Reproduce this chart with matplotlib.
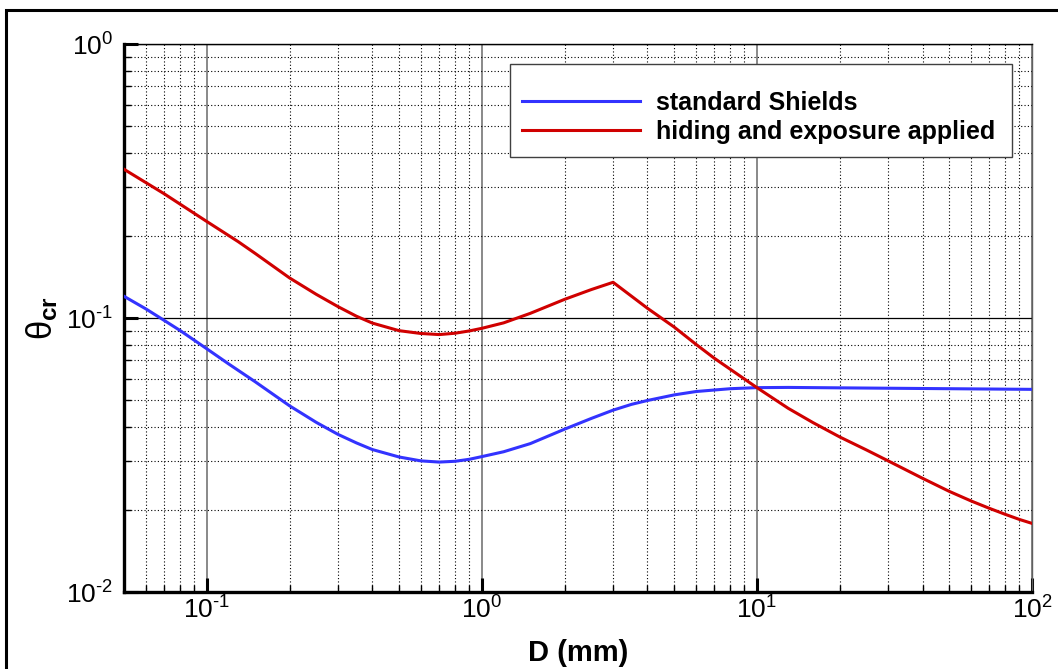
import matplotlib

matplotlib.use("Agg")
import math

import matplotlib.pyplot as plt
from matplotlib.patches import Rectangle
from matplotlib.ticker import FuncFormatter, LogLocator, NullFormatter

plt.rcParams.update({
    "font.family": "Liberation Sans",
    "mathtext.fontset": "custom",
    "mathtext.rm": "Liberation Sans",
    "mathtext.it": "Liberation Sans",
    "mathtext.bf": "Liberation Sans:bold",
})

BLUE = "#3333ff"
RED = "#d00000"

# standard Shields curve
d_std = [0.05, 0.06, 0.07, 0.08, 0.1, 0.12, 0.15, 0.2, 0.25, 0.3, 0.35, 0.4,
         0.5, 0.6, 0.7, 0.8, 0.9, 1.0, 1.2, 1.5, 2.0, 2.5, 3.0, 3.5, 4.0,
         5.0, 6.0, 7.0, 8.0, 10.0, 13.0, 20.0, 50.0, 100.0]
theta_std = [0.120, 0.108, 0.098, 0.090, 0.0772, 0.068, 0.0585, 0.0478,
             0.0416, 0.0376, 0.0350, 0.0331, 0.0311, 0.0301, 0.0298, 0.0300,
             0.0305, 0.0312, 0.0325, 0.0348, 0.0393, 0.0430, 0.0461, 0.0484,
             0.0500, 0.0524, 0.0539, 0.0546, 0.0552, 0.0557, 0.0558, 0.0556,
             0.0552, 0.0549]

# hiding and exposure applied
d_he = [0.05, 0.07, 0.1, 0.13, 0.15, 0.2, 0.25, 0.3, 0.35, 0.4, 0.5, 0.6,
        0.7, 0.8, 0.9, 1.0, 1.2, 1.5, 2.0, 2.5, 3.0, 4.0, 5.0, 6.0, 7.0, 8.0,
        10.0, 13.0, 16.0, 20.0, 25.0, 30.0, 40.0, 50.0, 60.0, 70.0, 80.0,
        90.0, 100.0]
theta_he = [0.349, 0.284, 0.225, 0.190, 0.172, 0.140, 0.122, 0.110, 0.1015,
            0.0958, 0.0899, 0.0878, 0.0870, 0.0880, 0.0897, 0.0917, 0.096,
            0.104, 0.117, 0.127, 0.135, 0.1085, 0.0927, 0.0802, 0.0713, 0.0650,
            0.0557, 0.0468, 0.0415, 0.0368, 0.0330, 0.0301, 0.0260, 0.0233,
            0.0215, 0.0202, 0.0192, 0.0184, 0.0178]

labels = ["standard Shields", "hiding and exposure applied"]


def pow10(v, _pos):
    # short hyphen in the exponent, like the original export
    e = int(round(math.log10(v)))
    if e < 0:
        return r"$10^{\text{-}%d}$" % -e
    return r"$10^{%d}$" % e


W, H = 1058, 669
fig = plt.figure(figsize=(W / 100, H / 100), dpi=100)
ax = fig.add_axes([124 / W, 1 - 592 / H, 908 / W, 548 / H])

ax.plot(d_std, theta_std, color=BLUE, lw=2.2, label=labels[0], zorder=4)
ax.plot(d_he, theta_he, color=RED, lw=2.2, label=labels[1], zorder=4)

ax.set_xscale("log")
ax.set_yscale("log")
ax.set_xlim(0.05, 100)
ax.set_ylim(0.01, 1)

ax.xaxis.set_major_formatter(FuncFormatter(pow10))
ax.yaxis.set_major_formatter(FuncFormatter(pow10))
ax.xaxis.set_minor_locator(LogLocator(base=10, subs=range(2, 10), numticks=20))
ax.yaxis.set_minor_locator(LogLocator(base=10, subs=range(2, 10), numticks=20))
ax.xaxis.set_minor_formatter(NullFormatter())
ax.yaxis.set_minor_formatter(NullFormatter())

ax.grid(True, which="minor", axis="both", color="black", lw=0.8, ls=(0, (1, 2)))
ax.grid(True, which="major", axis="x", color="#808080", lw=1.3)
ax.grid(True, which="major", axis="y", color="black", lw=0.9)

ax.tick_params(which="major", direction="in", length=10, width=2.2, labelsize=19)
ax.tick_params(which="minor", direction="in", length=5, width=1)
ax.tick_params(axis="x", which="major", pad=3)
ax.tick_params(axis="y", which="major", pad=8)
ax.tick_params(top=False, right=False, which="both")

for side in ("left", "bottom"):
    ax.spines[side].set_linewidth(2.4)
ax.spines["top"].set_linewidth(1)
ax.spines["right"].set_linewidth(1)
ax.spines["right"].set_color("#606060")

ax.set_xlabel("D (mm)", fontsize=21, fontweight="bold")
ax.xaxis.set_label_coords(0.5, -0.086)
ax.set_ylabel(r"$\theta_{\mathbf{cr}}$", fontsize=25)
ax.yaxis.set_label_coords(-0.070, 0.5)

# legend box drawn separately so its padding matches the original
ax.add_patch(Rectangle((510 / W, 1 - 157 / H), 502 / W, 93 / H,
                       transform=fig.transFigure, facecolor="white",
                       edgecolor="#404040", lw=1, zorder=5, clip_on=False))
leg = ax.legend(loc="upper left", bbox_to_anchor=(522 / W, 1 - 91 / H),
                bbox_transform=fig.transFigure, borderaxespad=0, borderpad=0,
                frameon=False, prop={"size": 18, "weight": "bold"},
                handlelength=4.7, handletextpad=0.65, labelspacing=0.2)
leg.set_zorder(6)

# outer frame of the original export
fig.add_artist(Rectangle((6 / W, -0.1), 1.2, 1 - 10 / H + 0.1,
                         transform=fig.transFigure, fill=False,
                         edgecolor="black", lw=2.2))

fig.savefig("out.png", dpi=100, facecolor="white")
